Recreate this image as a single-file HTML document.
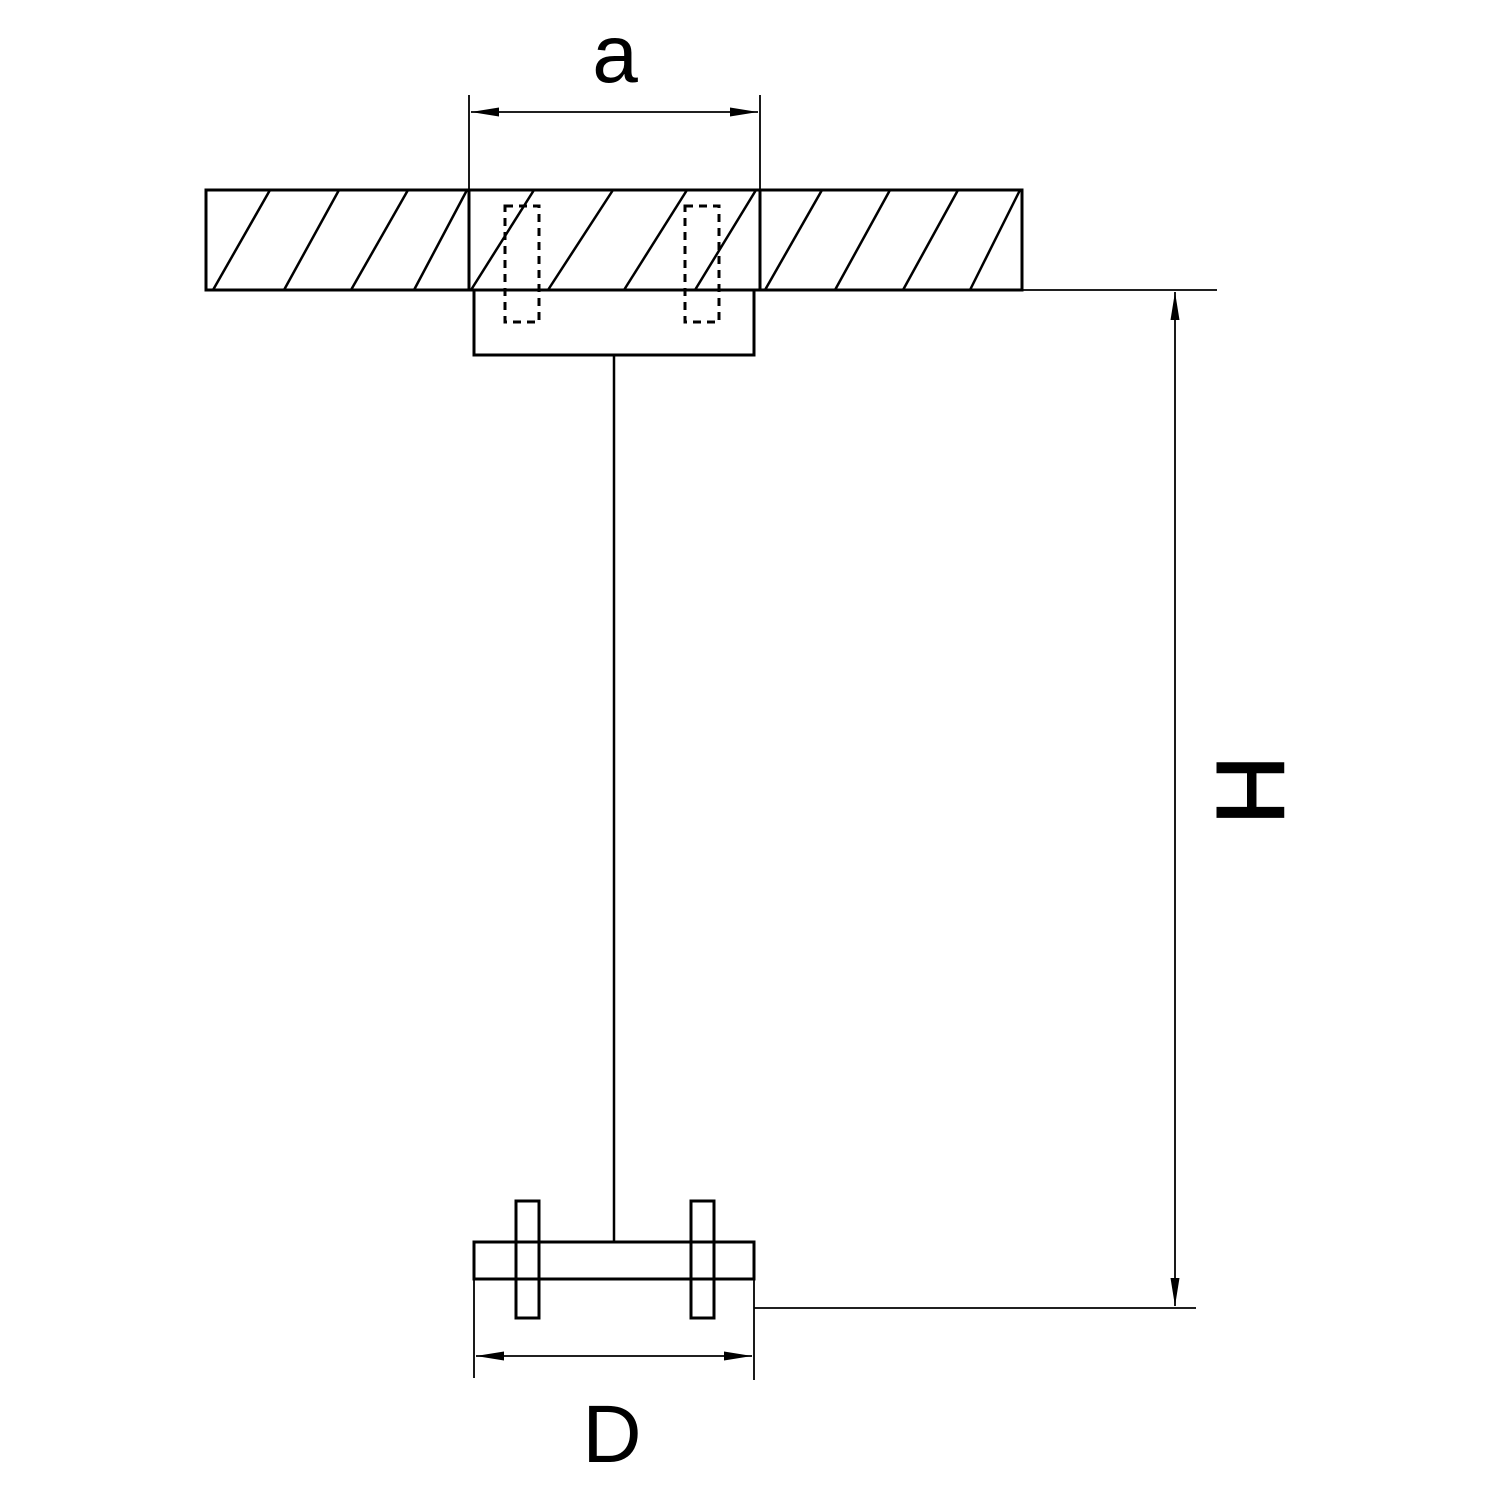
<!DOCTYPE html>
<html><head><style>body{margin:0;background:#fff}svg{display:block}</style></head><body>
<svg width="1500" height="1500" viewBox="0 0 1500 1500" xmlns="http://www.w3.org/2000/svg">
<defs>
<marker id="ar" viewBox="0 0 28 10" refX="28" refY="5" markerWidth="28" markerHeight="10" markerUnits="userSpaceOnUse" orient="auto-start-reverse"><path d="M0,0.5 L28,5 L0,9.5 Z" fill="#000"/></marker>
</defs>
<g stroke="#000" fill="none" stroke-width="3">
<rect x="206" y="190" width="816" height="100"/>
<line x1="469" y1="190" x2="469" y2="290"/>
<line x1="760" y1="190" x2="760" y2="290"/>
<g stroke-width="2.5">
<line x1="270" y1="190" x2="213" y2="290"/>
<line x1="339" y1="190" x2="284" y2="290"/>
<line x1="408" y1="190" x2="351" y2="290"/>
<line x1="467" y1="190" x2="414" y2="290"/>
<line x1="534" y1="190" x2="471" y2="290"/>
<line x1="613" y1="190" x2="548" y2="290"/>
<line x1="687" y1="190" x2="624" y2="290"/>
<line x1="756" y1="190" x2="695" y2="290"/>
<line x1="822" y1="190" x2="765" y2="290"/>
<line x1="890" y1="190" x2="835" y2="290"/>
<line x1="958" y1="190" x2="903" y2="290"/>
<line x1="1020" y1="190" x2="970" y2="290"/>
</g>
<rect x="474" y="290" width="280" height="65"/>
<g stroke-width="3" stroke-dasharray="8,6">
<rect x="505" y="206" width="34" height="116"/>
<rect x="685" y="206" width="34" height="116"/>
</g>
<line x1="614" y1="355" x2="614" y2="1242" stroke-width="2.5"/>
<rect x="474" y="1242" width="280" height="37"/>
<rect x="516" y="1201" width="23" height="117"/>
<rect x="691" y="1201" width="23" height="117"/>
</g>
<g stroke="#000" fill="none" stroke-width="1.8">
<line x1="469" y1="95" x2="469" y2="190"/>
<line x1="760" y1="95" x2="760" y2="190"/>
<line x1="471" y1="112" x2="758" y2="112" marker-start="url(#ar)" marker-end="url(#ar)"/>
<line x1="1022" y1="290" x2="1217" y2="290"/>
<line x1="754" y1="1308" x2="1196" y2="1308"/>
<line x1="1175" y1="292" x2="1175" y2="1306" marker-start="url(#ar)" marker-end="url(#ar)"/>
<line x1="474" y1="1279" x2="474" y2="1378"/>
<line x1="754" y1="1279" x2="754" y2="1380"/>
<line x1="476" y1="1356" x2="752" y2="1356" marker-start="url(#ar)" marker-end="url(#ar)"/>
</g>
<g font-family="'Liberation Sans', sans-serif" fill="#000">
<text x="615" y="82" font-size="82" text-anchor="middle">a</text>
<text x="612" y="1462" font-size="82" text-anchor="middle">D</text>
<text transform="translate(1250,790) rotate(90)" font-size="96" text-anchor="middle" dominant-baseline="central" stroke="#000" stroke-width="2">H</text>
</g>
</svg>
</body></html>
